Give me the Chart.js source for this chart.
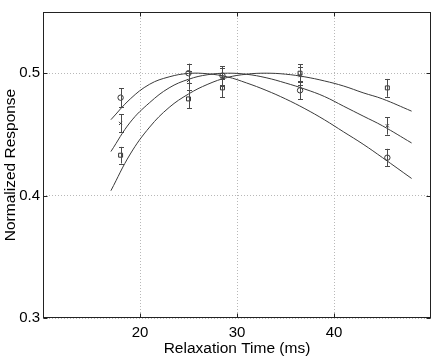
<!DOCTYPE html>
<html><head><meta charset="utf-8">
<script src="https://cdn.jsdelivr.net/npm/chart.js@4"></script>
<style>html,body{margin:0;padding:0;background:#fff;}canvas{display:block;}</style>
</head><body>
<canvas id="c" width="436" height="356"></canvas>
<script>
// ---- data ----
const xTicks = [20, 30, 40];
const yTicks = [0.3, 0.4, 0.5];
const xPoints = [18, 25, 28.5, 36.5, 45.5];
const circleY = [0.480, 0.500, 0.498, 0.486, 0.431];
const circleErr = [0.0076, 0.0078, 0.0075, 0.0074, 0.0072];
const crossY = [0.459, 0.494, 0.497, 0.498, 0.457];
const crossErr = [0.0074, 0.0075, 0.0075, 0.0074, 0.0072];
const squareY = [0.433, 0.479, 0.488, 0.500, 0.488];
const squareErr = [0.0068, 0.0075, 0.0075, 0.0074, 0.0073];
const curveX = [17, 19, 21, 23, 25, 27, 29, 31, 33, 35, 37, 39, 41, 43, 45, 48];
const fitCircle = [0.462, 0.479, 0.491, 0.497, 0.4998, 0.4995, 0.497, 0.492, 0.486, 0.479, 0.471, 0.462, 0.452, 0.442, 0.431, 0.414];
const fitCross  = [0.436, 0.460, 0.476, 0.488, 0.495, 0.4988, 0.500, 0.4991, 0.4963, 0.492, 0.487, 0.481, 0.473, 0.465, 0.457, 0.443];
const fitSquare = [0.404, 0.434, 0.456, 0.472, 0.483, 0.491, 0.4965, 0.4992, 0.500, 0.4992, 0.497, 0.4937, 0.4895, 0.484, 0.479, 0.469];

const pts = (xs, ys) => xs.map((x, i) => ({x: x, y: ys[i]}));
const FONT = "'Liberation Sans', Arial, Helvetica, sans-serif";
const INK = '#333333';

const curve = (ys) => ({
  type: 'line', data: pts(curveX, ys), borderColor: '#3a3a3a', borderWidth: 1,
  pointRadius: 0, fill: false, tension: 0.4, showLine: true
});
const marks = (ys, errs, style, r) => ({
  type: 'scatter', data: pts(xPoints, ys), errors: errs, showLine: false,
  pointStyle: style, pointRadius: r, pointBorderColor: INK, pointBackgroundColor: 'rgba(0,0,0,0)',
  pointBorderWidth: 1, borderColor: INK, backgroundColor: 'rgba(0,0,0,0)'
});

const errorBars = {
  id: 'errorBars',
  afterDatasetsDraw(chart) {
    const ctx = chart.ctx, xs = chart.scales.x, ys = chart.scales.y;
    ctx.save();
    ctx.strokeStyle = '#4a4a4a'; ctx.lineWidth = 1;
    chart.data.datasets.forEach((ds) => {
      if (!ds.errors) return;
      ds.data.forEach((p, i) => {
        const e = ds.errors[i];
        const px = Math.round(xs.getPixelForValue(p.x)) + 0.5;
        const t = ys.getPixelForValue(p.y + e), b = ys.getPixelForValue(p.y - e);
        ctx.beginPath();
        ctx.moveTo(px, t); ctx.lineTo(px, b);
        ctx.moveTo(px - 2.5, Math.round(t) + 0.5); ctx.lineTo(px + 2.5, Math.round(t) + 0.5);
        ctx.moveTo(px - 2.5, Math.round(b) + 0.5); ctx.lineTo(px + 2.5, Math.round(b) + 0.5);
        ctx.stroke();
      });
    });
    ctx.restore();
  }
};
const frame = {
  id: 'frame',
  afterDraw(chart) {
    const ctx = chart.ctx, a = chart.chartArea, xs = chart.scales.x, ys = chart.scales.y;
    ctx.save();
    ctx.strokeStyle = '#222'; ctx.lineWidth = 1;
    const L = Math.round(a.left) + 0.5, R = Math.round(a.right) - 0.5, T = Math.round(a.top) + 0.5, B = Math.round(a.bottom) - 0.5;
    ctx.strokeRect(L, T, R - L, B - T);
    ctx.beginPath();
    xTicks.forEach(v => {
      const px = Math.round(xs.getPixelForValue(v)) + 0.5;
      ctx.moveTo(px, B); ctx.lineTo(px, B - 4);
      ctx.moveTo(px, T); ctx.lineTo(px, T + 4);
    });
    yTicks.forEach(v => {
      const py = Math.round(ys.getPixelForValue(v)) + 0.5;
      ctx.moveTo(L, py); ctx.lineTo(L + 4, py);
      ctx.moveTo(R, py); ctx.lineTo(R - 4, py);
    });
    ctx.stroke();
    ctx.restore();
  }
};

new Chart(document.getElementById('c'), {
  type: 'scatter',
  data: {
    datasets: [
      curve(fitCircle), curve(fitCross), curve(fitSquare),
      marks(circleY, circleErr, 'circle', 2.7),
      marks(crossY, crossErr, 'crossRot', 2.2),
      marks(squareY, squareErr, 'rect', 2.8)
    ]
  },
  options: {
    responsive: false, animation: false, devicePixelRatio: 1,
    layout: { padding: { left: 0, right: 4, top: 12, bottom: 0 } },
    plugins: { legend: { display: false }, tooltip: { enabled: false } },
    scales: {
      x: {
        type: 'linear', min: 10, max: 50,
        afterBuildTicks: s => { s.ticks = xTicks.map(v => ({ value: v })); },
        afterFit: s => { s.height = 38; },
        grid: { color: '#b8b8b8', drawTicks: false, lineWidth: 1 },
        border: { display: false, dash: [1, 2] },
        ticks: { color: '#000', font: { family: FONT, size: 15 }, padding: 6, maxRotation: 0 },
        title: { display: true, text: 'Relaxation Time (ms)', color: '#000', font: { family: FONT, size: 15.5 }, padding: { top: -2, bottom: -2 } }
      },
      y: {
        type: 'linear', min: 0.3, max: 0.55,
        afterBuildTicks: s => { s.ticks = yTicks.map(v => ({ value: v })); },
        afterFit: s => { s.width = 43; },
        grid: { color: '#b8b8b8', drawTicks: false, lineWidth: 1 },
        border: { display: false, dash: [1, 2] },
        ticks: { color: '#000', font: { family: FONT, size: 15 }, padding: 3, callback: v => v.toFixed(1) },
        title: { display: true, text: 'Normalized Response', color: '#000', font: { family: FONT, size: 15.5 }, padding: { top: 1, bottom: 0 } }
      }
    }
  },
  plugins: [errorBars, frame]
});
</script>
</body></html>
